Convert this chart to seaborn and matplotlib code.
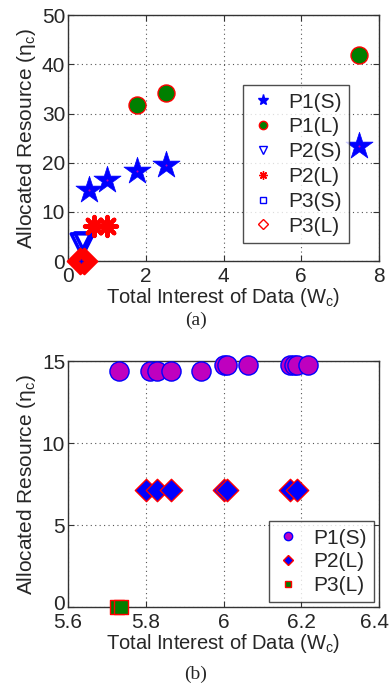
import matplotlib
matplotlib.use('Agg')

import matplotlib.pyplot as plt
import matplotlib.transforms as mtransforms
import seaborn as sns
from matplotlib.lines import Line2D

# ---- panel (a) data ----
a_p1s_x = [0.55, 1.0, 1.77, 2.53, 7.48]
a_p1s_y = [14.5, 16.4, 18.4, 19.5, 23.4]
a_p1l_x = [1.77, 2.53, 7.48]
a_p1l_y = [31.8, 34.2, 41.9]
a_p2s_x = [0.33, 0.42]
a_p2s_y = [3.6, 3.8]
a_p2l_x = [0.66, 1.0]
a_p2l_y = [7.1, 7.1]
a_p3s_x = [0.34]
a_p3s_y = [0.0]
a_p3l_x = [0.30, 0.40]
a_p3l_y = [0.0, 0.0]

# ---- panel (b) data ----
b_p1s_x = [5.731, 5.810, 5.830, 5.866, 5.943, 6.000, 6.010, 6.063, 6.172, 6.182, 6.190, 6.218]
b_p1s_y = [14.4, 14.4, 14.4, 14.4, 14.4, 14.75, 14.75, 14.75, 14.75, 14.75, 14.75, 14.75]
b_p2l_x = [5.800, 5.829, 5.865, 6.000, 6.010, 6.172, 6.188]
b_p2l_y = [7.15, 7.15, 7.15, 7.15, 7.15, 7.15, 7.15]
b_p3l_x = [5.725, 5.735]
b_p3l_y = [0.0, 0.0]

a_xticks = [0, 2, 4, 6, 8]
a_yticks = [0, 10, 20, 30, 40, 50]
b_xticks = [5.6, 5.8, 6.0, 6.2, 6.4]
b_xticklabels = ['5.6', '5.8', '6', '6.2', '6.4']
b_yticks = [0, 5, 10, 15]

sns.set_style('ticks')
plt.rcParams['font.family'] = ['Liberation Sans', 'DejaVu Sans']
plt.rcParams['mathtext.fontset'] = 'custom'
plt.rcParams['mathtext.rm'] = 'Liberation Sans'
plt.rcParams['mathtext.it'] = 'Liberation Sans'

XLABEL = 'Total Interest of Data (W$_c$)'
YLABEL = 'Allocated Resource (η$_c$)'
BLUE = '#0000ff'
RED = '#ff0000'
GREEN = '#007f00'
MAGENTA = '#bf00bf'
AST = (8, 2, 0)


def style_axes(ax):
    for sp in ax.spines.values():
        sp.set_color('#333333')
        sp.set_linewidth(1.0)
    ax.tick_params(direction='in', length=4, width=0.8, color='#333333',
                   labelsize=15, pad=2, top=True, right=True)
    ax.tick_params(axis='x', pad=4)
    ax.grid(True, linestyle=(0, (1, 3)), color='#555555', linewidth=0.8)
    ax.set_axisbelow(True)
    ax.set_xlabel(XLABEL, fontsize=14.5, labelpad=0)
    ax.set_ylabel(YLABEL, fontsize=15, labelpad=3)


def nudge(label, dx, dy):
    label.set_transform(label.get_transform() +
                        mtransforms.ScaledTranslation(dx / 72, dy / 72, fig.dpi_scale_trans))


fig = plt.figure(figsize=(3.92, 6.89), dpi=100)
ax1 = fig.add_axes([0.1735, 0.621, 0.7935, 0.357])
ax2 = fig.add_axes([0.1735, 0.119, 0.7935, 0.357])

# panel (a)
sns.scatterplot(x=a_p1s_x, y=a_p1s_y, marker='*', s=420, color=BLUE,
                edgecolor=BLUE, linewidth=0.5, ax=ax1, clip_on=False, zorder=3)
sns.scatterplot(x=a_p1s_x, y=a_p1s_y, marker='.', s=6, color=MAGENTA,
                edgecolor=MAGENTA, ax=ax1, clip_on=False, zorder=4)
sns.scatterplot(x=a_p1l_x, y=a_p1l_y, marker='o', s=150, color=GREEN,
                edgecolor=RED, linewidth=1.0, ax=ax1, clip_on=False, zorder=3)
sns.scatterplot(x=a_p2s_x, y=a_p2s_y, marker='v', s=190, facecolor='none',
                edgecolor=BLUE, linewidth=2.5, ax=ax1, clip_on=False, zorder=3)
sns.scatterplot(x=a_p2l_x, y=a_p2l_y, marker=AST, s=190, color=RED,
                edgecolor=RED, linewidth=3.0, ax=ax1, clip_on=False, zorder=3)
sns.scatterplot(x=a_p3l_x, y=a_p3l_y, marker='D', s=170, color=RED,
                edgecolor=RED, linewidth=1.5, ax=ax1, clip_on=False, zorder=4)
sns.scatterplot(x=a_p3s_x, y=a_p3s_y, marker='+', s=12, color=BLUE,
                linewidth=1, ax=ax1, clip_on=False, zorder=5)
ax1.set_xlim(0, 8)
ax1.set_ylim(0, 50)
ax1.set_xticks(a_xticks)
ax1.set_yticks(a_yticks)
style_axes(ax1)

handles_a = [
    Line2D([], [], ls='none', marker='*', ms=8, color=BLUE),
    Line2D([], [], ls='none', marker='o', ms=6, mfc=GREEN, mec=RED, mew=1),
    Line2D([], [], ls='none', marker='v', ms=6, mfc='none', mec=BLUE, mew=1),
    Line2D([], [], ls='none', marker=AST, ms=6, color=RED, mew=1),
    Line2D([], [], ls='none', marker='s', ms=5, mfc='none', mec=BLUE, mew=1),
    Line2D([], [], ls='none', marker='D', ms=5, mfc='none', mec=RED, mew=1),
]
labels_a = ['P1(S)', 'P1(L)', 'P2(S)', 'P2(L)', 'P3(S)', 'P3(L)']
leg = ax1.legend(handles_a, labels_a, loc='upper left', bbox_to_anchor=(0.563, 0.715),
                 fontsize=15, frameon=True, fancybox=False, handlelength=1.2,
                 handletextpad=0.6, labelspacing=0.28, borderpad=0.35, borderaxespad=0)
leg.get_frame().set_edgecolor('#222222')
leg.get_frame().set_linewidth(1.0)

# panel (b)
sns.scatterplot(x=b_p1s_x, y=b_p1s_y, marker='o', s=190, color=MAGENTA,
                edgecolor=BLUE, linewidth=1.0, ax=ax2, clip_on=False, zorder=3)
sns.scatterplot(x=b_p2l_x, y=b_p2l_y, marker='D', s=130, color=BLUE,
                edgecolor=RED, linewidth=1.0, ax=ax2, clip_on=False, zorder=3)
sns.scatterplot(x=b_p3l_x, y=b_p3l_y, marker='s', s=90, color=GREEN,
                edgecolor=RED, linewidth=1.0, ax=ax2, clip_on=False, zorder=3)
ax2.set_xlim(5.6, 6.4)
ax2.set_ylim(0, 15)
ax2.set_xticks(b_xticks)
ax2.set_xticklabels(b_xticklabels)
ax2.set_yticks(b_yticks)
style_axes(ax2)

# keep the last tick label inside the figure, lift the y "0" off "5.6"
nudge(ax2.get_xticklabels()[-1], -3, 0)
nudge(ax2.get_yticklabels()[0], 0, 3)

handles_b = [
    Line2D([], [], ls='none', marker='o', ms=6, mfc=MAGENTA, mec=BLUE, mew=1),
    Line2D([], [], ls='none', marker='D', ms=5, mfc=BLUE, mec=RED, mew=1),
    Line2D([], [], ls='none', marker='s', ms=5, mfc=GREEN, mec=RED, mew=1),
]
labels_b = ['P1(S)', 'P2(L)', 'P3(L)']
leg = ax2.legend(handles_b, labels_b, loc='lower right', bbox_to_anchor=(0.984, 0.02),
                 fontsize=15, frameon=True, fancybox=False, handlelength=1.2,
                 handletextpad=0.6, labelspacing=0.22, borderpad=0.35, borderaxespad=0)
leg.get_frame().set_edgecolor('#222222')
leg.get_frame().set_linewidth(1.0)

fig.text(0.5, 1 - 320 / 689, '(a)', ha='center', va='center', fontsize=14,
         family='Liberation Serif')
fig.text(0.5, 1 - 674 / 689, '(b)', ha='center', va='center', fontsize=14,
         family='Liberation Serif')

fig.savefig('out.png', dpi=100)
plt.close()
